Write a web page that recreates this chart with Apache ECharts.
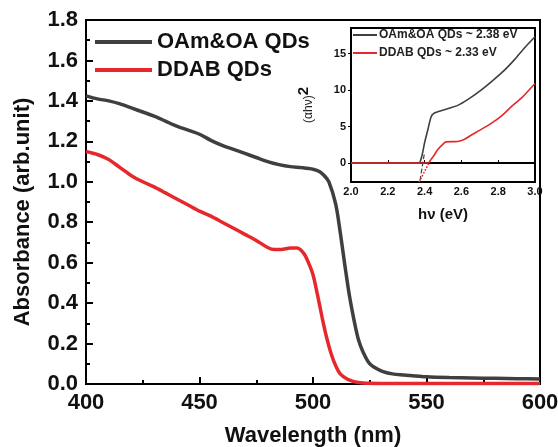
<!DOCTYPE html>
<html>
<head>
<meta charset="utf-8">
<script src="https://cdn.jsdelivr.net/npm/echarts@6/dist/echarts.min.js"></script>
<style>
html,body{margin:0;padding:0;background:#fff;}
#c{width:558px;height:447px;}
</style>
</head>
<body>
<div id="c"></div>
<script>
// Main chart data: wavelength (nm) vs absorbance
const oamWave = [400,405,410,415,420,425,430,435,440,445,450,455,460,465,470,475,480,485,490,495,500,503,505,507,510,512,514,516,518,520,522,525,530,535,540,550,560,570,580,590,600];
const oamAbs  = [1.425,1.41,1.40,1.385,1.365,1.345,1.325,1.30,1.275,1.255,1.235,1.205,1.18,1.16,1.14,1.12,1.10,1.085,1.075,1.07,1.062,1.05,1.03,1.0,0.89,0.75,0.59,0.44,0.32,0.22,0.16,0.10,0.065,0.05,0.045,0.036,0.032,0.03,0.028,0.026,0.025];
const ddabWave = [400,405,410,415,420,425,430,435,440,445,450,455,460,465,470,475,480,483,486,490,493,496,498,500,502,504,506,508,510,512,515,518,522,530,600];
const ddabAbs  = [1.15,1.135,1.11,1.07,1.03,1.0,0.975,0.945,0.915,0.885,0.855,0.83,0.80,0.77,0.74,0.71,0.675,0.665,0.665,0.672,0.672,0.645,0.60,0.54,0.44,0.33,0.23,0.15,0.09,0.05,0.025,0.012,0.005,0.003,0.003];

// Inset data: photon energy (eV) vs (αhν)^2
const oamEv  = [2.0,2.37,2.38,2.39,2.40,2.417,2.435,2.45,2.47,2.52,2.58,2.64,2.707,2.77,2.833,2.89,2.94,3.0];
const oamTauc = [0,0,0.5,1.5,2.8,4.5,6.3,6.8,7.0,7.4,7.9,8.8,10,11.3,12.7,14.2,15.7,17.3];
const ddabEv  = [2.0,2.42,2.435,2.45,2.47,2.5,2.516,2.58,2.62,2.652,2.7,2.76,2.82,2.87,2.93,3.0];
const ddabTauc = [0,0,0.5,1.0,1.8,2.6,2.9,2.95,3.3,3.8,4.5,5.4,6.5,7.7,9.0,10.9];
const oamFitEv = [2.375,2.40];
const oamFitY  = [-2.4,1.5];
const ddabFitEv = [2.37,2.43];
const ddabFitY  = [-2.6,0.3];

// Tick labels
const mainYTicks = [0,0.2,0.4,0.6,0.8,1.0,1.2,1.4,1.6,1.8];
const insetYTicks = [0,5,10,15];

const names = ['OAm&OA QDs','DDAB QDs'];
const insetNames = ['OAm&OA QDs ~ 2.38 eV','DDAB QDs ~ 2.33 eV'];

const zip = (a,b) => a.map((v,i)=>[v,b[i]]);
const GRAY = '#3f3f3f', RED = '#e6282c';
const FONT = '"Liberation Sans", Arial, sans-serif';

const chart = echarts.init(document.getElementById('c'), null, {renderer:'canvas'});
chart.setOption({
  backgroundColor:'#fff',
  animation:false,
  textStyle:{fontFamily:FONT},
  grid:[
    {left:86, top:20, width:454, height:364, show:true, borderColor:'#000', borderWidth:2, backgroundColor:'transparent', outerBoundsMode:'none', containLabel:false},
    {left:351, top:28, width:184, height:154, show:true, borderColor:'#000', borderWidth:2, backgroundColor:'#fff', z:3, outerBoundsMode:'none', containLabel:false}
  ],
  legend:[
    {data:names, left:95, top:31, padding:0, orient:'vertical', itemWidth:57, itemHeight:4, itemGap:6, icon:'rect',
     textStyle:{fontFamily:FONT, fontSize:22, fontWeight:'bold', color:'#111'}, z:5},
    {data:insetNames, left:353, top:29, padding:0, orient:'vertical', itemWidth:24, itemHeight:2, itemGap:6, icon:'rect',
     textStyle:{fontFamily:FONT, fontSize:12, fontWeight:'bold', color:'#222', padding:[0,0,0,-3]}, z:6}
  ],
  xAxis:[
    {gridIndex:0, type:'value', min:400, max:600, interval:50,
     name:'Wavelength (nm)', nameLocation:'middle', nameGap:41,
     nameTextStyle:{fontSize:22, fontWeight:'bold', color:'#111', fontFamily:FONT},
     axisLine:{lineStyle:{color:'#000', width:2}},
     axisTick:{inside:true, length:7, lineStyle:{color:'#000', width:2}},
     minorTick:{show:true, splitNumber:2, length:4, lineStyle:{color:'#000', width:2}},
     axisLabel:{fontSize:22, fontWeight:'bold', color:'#111', margin:8, fontFamily:FONT},
     splitLine:{show:false}},
    {gridIndex:1, type:'value', min:2.0, max:3.0, interval:0.2,
     name:'hν (eV)', nameLocation:'middle', nameGap:25,
     nameTextStyle:{fontSize:15, fontWeight:'bold', color:'#111', fontFamily:FONT},
     axisLine:{lineStyle:{color:'#000', width:2}},
     axisTick:{inside:true, length:3, lineStyle:{color:'#000', width:1}},
     axisLabel:{fontSize:11, fontWeight:'bold', color:'#111', margin:4, fontFamily:FONT, formatter:v=>v.toFixed(1)},
     splitLine:{show:false}, z:4}
  ],
  yAxis:[
    {gridIndex:0, type:'value', min:0, max:1.8, interval:0.2,
     name:'Absorbance (arb.unit)', nameLocation:'middle', nameGap:52,
     nameTextStyle:{fontSize:22, fontWeight:'bold', color:'#111', fontFamily:FONT, padding:[0,20,0,0]},
     axisLine:{lineStyle:{color:'#000', width:2}},
     axisTick:{inside:true, length:7, lineStyle:{color:'#000', width:2}},
     minorTick:{show:true, splitNumber:2, length:4, lineStyle:{color:'#000', width:2}},
     axisLabel:{fontSize:22, fontWeight:'bold', color:'#111', margin:8, fontFamily:FONT, formatter:v=>v.toFixed(1),
       customValues:mainYTicks},
     splitLine:{show:false}},
    {gridIndex:1, type:'value', min:-2.6, max:18.5,
     name:'(αhν){s|2}', nameLocation:'middle', nameGap:30,
     nameTextStyle:{fontSize:12, color:'#222', fontFamily:FONT,
       rich:{s:{fontSize:15, fontWeight:'bold', color:'#111', padding:[0,0,10,0]}}},
     axisLine:{lineStyle:{color:'#000', width:2}},
     axisTick:{inside:false, length:3, lineStyle:{color:'#000', width:1}, customValues:insetYTicks},
     axisLabel:{fontSize:11, fontWeight:'bold', color:'#111', margin:5, fontFamily:FONT, customValues:insetYTicks},
     splitLine:{show:false}, z:4}
  ],
  series:[
    {name:names[0], type:'line', xAxisIndex:0, yAxisIndex:0, data:zip(oamWave,oamAbs), smooth:0.3,
     showSymbol:false, lineStyle:{color:GRAY, width:3.5}, itemStyle:{color:GRAY}, z:2},
    {name:names[1], type:'line', xAxisIndex:0, yAxisIndex:0, data:zip(ddabWave,ddabAbs), smooth:0.3,
     showSymbol:false, lineStyle:{color:RED, width:3.5}, itemStyle:{color:RED}, z:2},
    {name:insetNames[0], type:'line', xAxisIndex:1, yAxisIndex:1, data:zip(oamEv,oamTauc), smooth:0.2,
     showSymbol:false, lineStyle:{color:GRAY, width:1.6}, itemStyle:{color:GRAY}, z:5},
    {name:insetNames[1], type:'line', xAxisIndex:1, yAxisIndex:1, data:zip(ddabEv,ddabTauc), smooth:0.2,
     showSymbol:false, lineStyle:{color:RED, width:1.6}, itemStyle:{color:RED}, z:6},
    {name:'oamFit', type:'line', xAxisIndex:1, yAxisIndex:1, data:zip(oamFitEv,oamFitY),
     showSymbol:false, lineStyle:{color:GRAY, width:1.2, type:'dashed'}, z:5},
    {name:'ddabFit', type:'line', xAxisIndex:1, yAxisIndex:1, data:zip(ddabFitEv,ddabFitY),
     showSymbol:false, lineStyle:{color:RED, width:1.6, type:'dotted'}, z:6}
  ]
});
</script>
</body>
</html>
